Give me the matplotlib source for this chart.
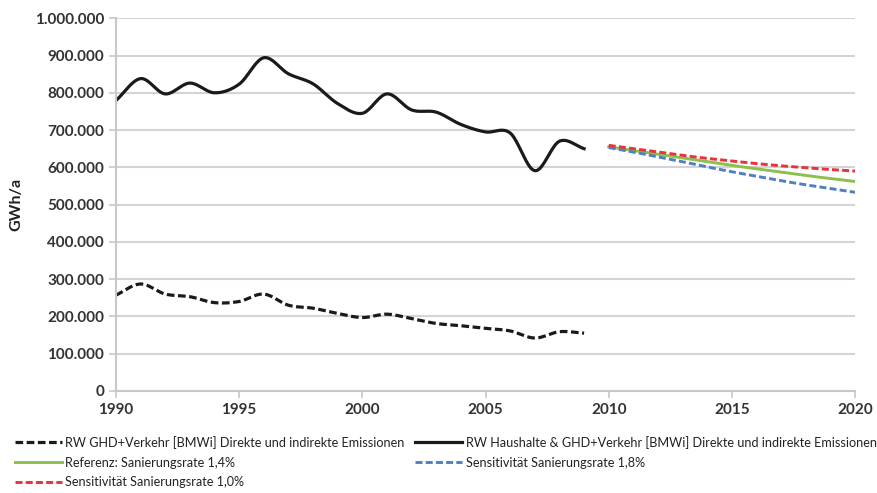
import numpy as np
import matplotlib
matplotlib.use("Agg")
import matplotlib.pyplot as plt
from matplotlib.ticker import FuncFormatter, MultipleLocator

# values (GWh/a)
years_hist = list(range(1990, 2010))
haushalte_ghd = [779000, 838000, 797000, 826000, 800000, 823000, 894000, 851000, 824000, 771000,
                 745000, 797000, 754000, 748000, 715000, 695000, 692000, 591000, 670000, 650000]
ghd_verkehr = [257000, 287000, 260000, 253000, 237000, 240000, 260000, 230000, 222000, 208000,
               197000, 206000, 194000, 181000, 175000, 168000, 161000, 142000, 159000, 155000]

years_proj = list(range(2010, 2021))
referenz = [655000, 645000, 635000, 625000, 615000, 605000, 596000, 587000, 578000, 570000, 562000]
sens_18 = [653000, 641000, 628000, 615000, 601000, 588000, 576000, 564000, 553000, 543000, 533000]
sens_10 = [659000, 650000, 641000, 632000, 624000, 617000, 610000, 604000, 599000, 594000, 590000]

labels = ["RW GHD+Verkehr [BMWi] Direkte und indirekte Emissionen",
          "RW Haushalte & GHD+Verkehr [BMWi] Direkte und indirekte Emissionen",
          "Referenz: Sanierungsrate 1,4%",
          "Sensitivität Sanierungsrate 1,8%",
          "Sensitivität Sanierungsrate 1,0%"]


def smooth(x, y, n=20):
    # Catmull-Rom like the "smoothed line" option in the spreadsheet tool
    x = np.asarray(x, float)
    y = np.asarray(y, float)
    px = np.concatenate([[2 * x[0] - x[1]], x, [2 * x[-1] - x[-2]]])
    py = np.concatenate([[2 * y[0] - y[1]], y, [2 * y[-1] - y[-2]]])
    xs, ys = [], []
    t = np.linspace(0, 1, n, endpoint=False)
    for i in range(1, len(px) - 2):
        for arr, out in ((px, xs), (py, ys)):
            p0, p1, p2, p3 = arr[i - 1], arr[i], arr[i + 1], arr[i + 2]
            out.extend(0.5 * (2 * p1 + (-p0 + p2) * t + (2 * p0 - 5 * p1 + 4 * p2 - p3) * t ** 2
                              + (-p0 + 3 * p1 - 3 * p2 + p3) * t ** 3))
    xs.append(x[-1])
    ys.append(y[-1])
    return np.array(xs), np.array(ys)


fig = plt.figure(figsize=(8.78, 4.93), dpi=100)
ax = fig.add_axes([0.132, 0.207, 0.842, 0.756])

grid_c = "#d4d4d4"
ax.yaxis.grid(True, color=grid_c, linewidth=1.5)
ax.set_axisbelow(True)

dash = (0, (2.4, 1.1))
h_dash, = ax.plot(*smooth(years_hist, ghd_verkehr), color="#1a1a1a", lw=2.3, ls=dash)
h_solid, = ax.plot(*smooth(years_hist, haushalte_ghd), color="#1a1a1a", lw=2.3)
h_green, = ax.plot(*smooth(years_proj, referenz), color="#8cc04c", lw=2.1)
h_blue, = ax.plot(*smooth(years_proj, sens_18), color="#4f7fc4", lw=2.1, ls=dash)
h_red, = ax.plot(*smooth(years_proj, sens_10), color="#e8323c", lw=2.1, ls=dash)

ax.set_xlim(1990, 2020)
ax.set_ylim(0, 1000000)
ax.xaxis.set_major_locator(MultipleLocator(5))
ax.yaxis.set_major_locator(MultipleLocator(100000))
ax.yaxis.set_major_formatter(FuncFormatter(lambda v, p: f"{int(v):,}".replace(",", ".")))

for s in ["top", "right"]:
    ax.spines[s].set_visible(False)
for s in ["left", "bottom"]:
    ax.spines[s].set_color("#c8c8c8")
    ax.spines[s].set_linewidth(1.5)
ax.tick_params(axis="both", color="#c8c8c8", width=1.2, length=5, labelsize=11,
               labelcolor="#333333")
for lab in ax.get_xticklabels() + ax.get_yticklabels():
    lab.set_fontfamily("Lato")
    lab.set_fontweight("bold")

ax.set_ylabel("GWh/a", fontsize=11.5, fontweight="bold", fontfamily="Lato",
              color="#222222", labelpad=8)

leg = fig.legend([h_dash, h_green, h_red, h_solid, h_blue],
                 [labels[0], labels[2], labels[4], labels[1], labels[3]],
                 ncol=2, loc="upper left", bbox_to_anchor=(0.017, 0.116), frameon=False,
                 prop={"family": "Lato", "size": 9.1}, handlelength=3.7, handletextpad=0.3,
                 columnspacing=0.8, labelspacing=0.62, borderaxespad=0, borderpad=0)
for t in leg.get_texts():
    t.set_color("#222222")

fig.savefig("out.png", dpi=100)
